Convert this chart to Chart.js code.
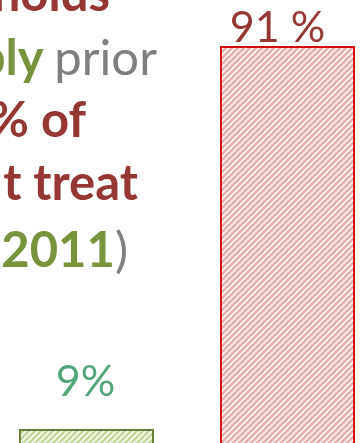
<!DOCTYPE html>
<html>
<head>
<meta charset="utf-8">
<script src="https://cdn.jsdelivr.net/npm/chart.js@4/dist/chart.umd.min.js"></script>
<style>
  html, body { margin: 0; padding: 0; width: 363px; height: 443px; overflow: hidden; background: #fff; }
  #wrap { position: absolute; left: -14px; top: 0; width: 402px; height: 476px; }
  .ln { position: absolute; white-space: nowrap; font-family: Lato, sans-serif; font-size: 49px; line-height: 49px; font-weight: bold; text-align: right; }
  .red { color: #953735; }
  .grn { color: #77933c; }
  .gry { color: #7f7f7f; font-weight: normal; }
</style>
</head>
<body>
<div class="ln red" style="right:253px; top:-32px;">holds</div>
<div class="ln" style="right:206px; top:32px;"><span class="grn">bly</span> <span class="gry">prior</span></div>
<div class="ln red" style="right:277px; top:94px;">% of</div>
<div class="ln red" style="right:225px; top:157px;">t treat</div>
<div class="ln" style="right:235px; top:224px;"><span class="grn">2011</span><span class="gry">)</span></div>
<div id="wrap"><canvas id="chart" width="402" height="476"></canvas></div>
<script>
  // datos
  const categorias = ['A', 'B'];
  const valores = [9, 91];
  const etiquetas = ['9%', '91 %'];
  const coloresEtiqueta = ['#55a57a', '#953735'];

  function rayado(fondo, linea) {
    const c = document.createElement('canvas');
    c.width = 6; c.height = 6;
    const ctx = c.getContext('2d');
    ctx.fillStyle = fondo;
    ctx.fillRect(0, 0, 6, 6);
    ctx.strokeStyle = linea;
    ctx.lineWidth = 2.8;
    ctx.beginPath();
    ctx.moveTo(-3, 9); ctx.lineTo(9, -3);
    ctx.moveTo(-3, 3); ctx.lineTo(3, -3);
    ctx.moveTo(3, 9); ctx.lineTo(9, 3);
    ctx.stroke();
    return ctx.createPattern(c, 'repeat');
  }

  const etiquetasPlugin = {
    id: 'etiquetas',
    afterDatasetsDraw(chart) {
      const ctx = chart.ctx;
      const meta = chart.getDatasetMeta(0);
      const dy = [33, 4];
      const dx = [-1, -10];
      ctx.save();
      ctx.font = '43px Lato, sans-serif';
      ctx.textAlign = 'center';
      ctx.textBaseline = 'alphabetic';
      meta.data.forEach((bar, i) => {
        ctx.fillStyle = coloresEtiqueta[i];
        ctx.fillText(etiquetas[i], bar.x + dx[i], bar.y - dy[i]);
      });
      ctx.restore();
    }
  };

  const chart = new Chart(document.getElementById('chart'), {
    type: 'bar',
    data: {
      labels: categorias,
      datasets: [{
        data: valores,
        backgroundColor: [rayado('#ffffff', '#c3d69b'), rayado('#ffffff', '#e6b0b0')],
        borderColor: ['#667f35', '#d40f0f'],
        borderWidth: 2,
        borderSkipped: 'bottom',
        barPercentage: 0.672,
        categoryPercentage: 1
      }]
    },
    plugins: [etiquetasPlugin],
    options: {
      responsive: false,
      animation: false,
      layout: { padding: { top: 4, bottom: 5, left: 0, right: 0 } },
      plugins: { legend: { display: false }, tooltip: { enabled: false } },
      scales: {
        x: { display: false },
        y: { display: false, min: 0, max: 100 }
      }
    }
  });
</script>
</body>
</html>
